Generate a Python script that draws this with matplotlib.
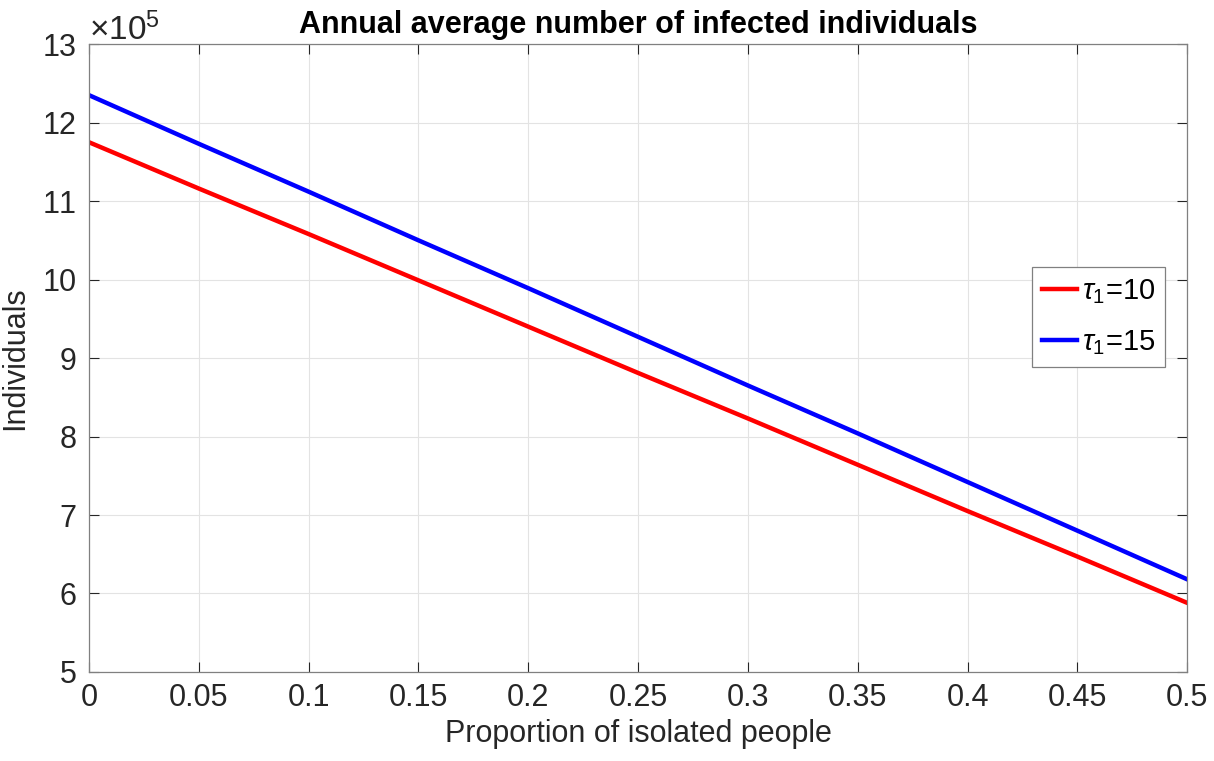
import numpy as np
import matplotlib.pyplot as plt
from matplotlib.ticker import ScalarFormatter

# Proportion of isolated people and annual average infected counts
proportion = [0.0, 0.05, 0.10, 0.15, 0.20, 0.25, 0.30, 0.35, 0.40, 0.45, 0.50]
infected_tau10 = [11.75e5, 11.16e5, 10.58e5, 9.99e5, 9.40e5, 8.81e5,
                  8.23e5, 7.64e5, 7.05e5, 6.47e5, 5.88e5]
infected_tau15 = [12.35e5, 11.73e5, 11.12e5, 10.50e5, 9.89e5, 9.27e5,
                  8.65e5, 8.04e5, 7.42e5, 6.80e5, 6.18e5]
labels = [r'$\tau_1$=10', r'$\tau_1$=15']

xticks = np.arange(0, 0.501, 0.05)
xtick_labels = ['0', '0.05', '0.1', '0.15', '0.2', '0.25', '0.3', '0.35', '0.4', '0.45', '0.5']
yticks = np.arange(5, 14) * 1e5

plt.rcParams['font.family'] = ['Liberation Sans', 'DejaVu Sans']
plt.rcParams['mathtext.fontset'] = 'custom'
plt.rcParams['mathtext.rm'] = 'Liberation Sans'
plt.rcParams['mathtext.it'] = 'Liberation Sans:italic'

fig = plt.figure(figsize=(12.14, 7.61), dpi=100)
ax = fig.add_axes([0.0733, 0.117, 0.9047, 0.825])

ax.plot(proportion, infected_tau10, color='#ff0000', lw=3.2, label=labels[0])
ax.plot(proportion, infected_tau15, color='#0000ff', lw=3.2, label=labels[1])

ax.set_xlim(0, 0.5)
ax.set_ylim(5e5, 13e5)
ax.set_xticks(xticks)
ax.set_xticklabels(xtick_labels)
ax.set_yticks(yticks)

# fixed exponent of 10^5 for the y axis
fmt = ScalarFormatter(useMathText=True)
fmt.set_powerlimits((5, 5))
ax.yaxis.set_major_formatter(fmt)
ax.yaxis.get_offset_text().set_fontsize(24)
ax.yaxis.get_offset_text().set_color('#262626')

ax.grid(True, color='#e3e3e3', lw=0.8)
ax.set_axisbelow(True)
ax.tick_params(direction='in', top=True, right=True, length=7, width=0.8,
               colors='#262626', labelsize=22)
ax.tick_params(axis='x', pad=8)
ax.tick_params(axis='y', pad=9)
for s in ax.spines.values():
    s.set_color('#808080')
    s.set_linewidth(0.9)

ax.set_title('Annual average number of infected individuals', fontsize=22,
             fontweight='bold', pad=8)
ax.set_xlabel('Proportion of isolated people', fontsize=22, color='#262626', labelpad=4)
ax.set_ylabel('Individuals', fontsize=22, color='#262626', labelpad=8)

leg = ax.legend(loc='center right', fontsize=21, handlelength=1.2,
                handletextpad=0.15, borderpad=0.35, labelspacing=0.75,
                borderaxespad=0, fancybox=False, framealpha=1,
                edgecolor='#808080', bbox_to_anchor=(0.98, 0.565))
leg.get_frame().set_linewidth(0.9)

fig.savefig('out.png', dpi=100)
